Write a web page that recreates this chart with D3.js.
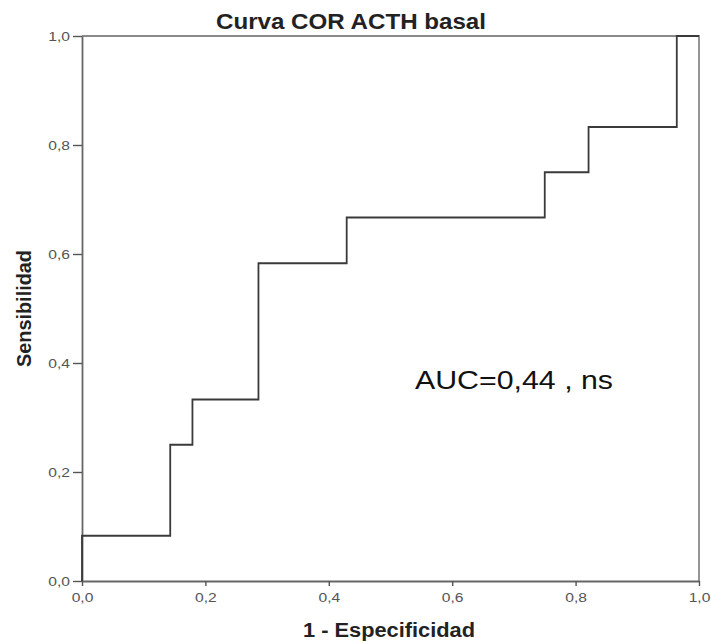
<!DOCTYPE html>
<html><head><meta charset="utf-8">
<script src="https://cdn.jsdelivr.net/npm/d3@7"></script>
<style>body{margin:0;background:#fff}svg{display:block}</style>
</head><body>
<script>
const title = "Curva COR ACTH basal";
const xLabel = "1 - Especificidad";
const yLabel = "Sensibilidad";
const annotation = "AUC=0,44 , ns";
const fpr = [0, 0, 0.143, 0.143, 0.179, 0.179, 0.286, 0.286, 0.429, 0.429, 0.75, 0.75, 0.821, 0.821, 0.964, 0.964, 1.0];
const tpr = [0, 0.083, 0.083, 0.25, 0.25, 0.333, 0.333, 0.583, 0.583, 0.667, 0.667, 0.75, 0.75, 0.833, 0.833, 1.0, 1.0];
const tickVals = [0, 0.2, 0.4, 0.6, 0.8, 1.0];
const tickLabels = ["0,0", "0,2", "0,4", "0,6", "0,8", "1,0"];

const W = 711, H = 642;
const svg = d3.select("body").append("svg").attr("width", W).attr("height", H);
const x = d3.scaleLinear().domain([0, 1]).range([82, 699]);
const y = d3.scaleLinear().domain([0, 1]).range([581, 36]);
const fmt = d => tickLabels[tickVals.indexOf(d)];
const font = "Liberation Sans, Arial, sans-serif";
function stretch(sel, f) {
  sel.each(function () {
    const L = this.getComputedTextLength();
    this.setAttribute("textLength", L * f);
    this.setAttribute("lengthAdjust", "spacingAndGlyphs");
  });
}

// frame
svg.append("path").attr("d", `M${x(0)},${y(1)}H${x(1)}V${y(0)}`)
  .attr("fill", "none").attr("stroke", "#8a8a8a").attr("stroke-width", 1.8);

const gx = svg.append("g").attr("transform", `translate(0,${y(0)})`)
  .call(d3.axisBottom(x).tickValues(tickVals).tickFormat(fmt).tickSize(5).tickSizeOuter(0).tickPadding(5));
const gy = svg.append("g").attr("transform", `translate(${x(0)},0)`)
  .call(d3.axisLeft(y).tickValues(tickVals).tickFormat(fmt).tickSize(9).tickSizeOuter(0).tickPadding(3));
[gx, gy].forEach(g => {
  g.select(".domain").attr("stroke", "#666").attr("stroke-width", 1.8);
  g.selectAll(".tick line").attr("stroke", "#555").attr("stroke-width", 1.4);
  g.selectAll(".tick text").attr("fill", "#555").attr("font-size", 12.5).attr("font-family", font);
});
gx.selectAll(".tick text").attr("y", 12).attr("dy", "0.71em");
stretch(gx.selectAll(".tick text"), 1.25);
stretch(gy.selectAll(".tick text"), 1.25);

const pts = fpr.map((f, i) => [f, tpr[i]]);
svg.append("path").datum(pts)
  .attr("d", d3.line().x(d => x(d[0])).y(d => y(d[1])))
  .attr("fill", "none").attr("stroke", "#3a3a3a").attr("stroke-width", 1.8);

const tt = svg.append("text").attr("x", 351).attr("y", 29).attr("text-anchor", "middle")
  .attr("font-family", font).attr("font-weight", "bold").attr("font-size", 22).attr("fill", "#222").text(title);
tt.attr("textLength", 270).attr("lengthAdjust", "spacingAndGlyphs");
svg.append("text").attr("x", 389).attr("y", 637).attr("text-anchor", "middle")
  .attr("font-family", font).attr("font-weight", "bold").attr("font-size", 19.5).attr("fill", "#222")
  .attr("textLength", 172).attr("lengthAdjust", "spacingAndGlyphs").text(xLabel);
svg.append("text").attr("transform", `translate(31,308.5) rotate(-90)`).attr("text-anchor", "middle")
  .attr("font-family", font).attr("font-weight", "bold").attr("font-size", 20).attr("fill", "#222")
  .attr("textLength", 117).attr("lengthAdjust", "spacingAndGlyphs").text(yLabel);
svg.append("text").attr("x", 415).attr("y", 389)
  .attr("font-family", font).attr("font-size", 25).attr("fill", "#111")
  .attr("textLength", 198).attr("lengthAdjust", "spacingAndGlyphs").text(annotation);
</script>
</body></html>
